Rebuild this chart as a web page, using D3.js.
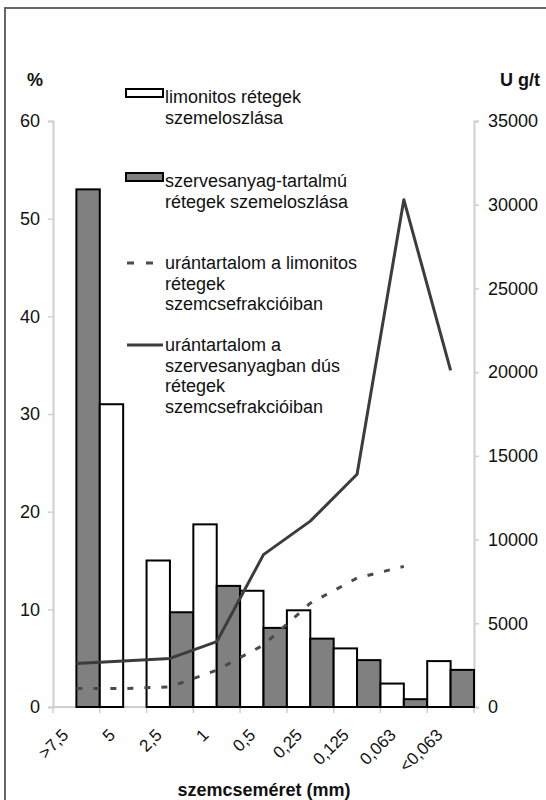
<!DOCTYPE html>
<html>
<head>
<meta charset="utf-8">
<script src="https://cdn.jsdelivr.net/npm/d3@7"></script>
<style>
  html, body { margin: 0; padding: 0; background: #fff; }
  svg { display: block; }
  text { font-family: "Liberation Sans", Arial, sans-serif; fill: #111; }
</style>
</head>
<body>
<div id="chart"></div>
<script>
// ---- data ----
const categories = [">7,5", "5", "2,5", "1", "0,5", "0,25", "0,125", "0,063", "<0,063"];
const limonitBars = [0, 31, 15, 18.7, 11.9, 9.9, 6.0, 2.4, 4.7];          // % (white)
const szervesBars = [53, 0, 9.7, 12.4, 8.1, 7.0, 4.8, 0.8, 3.8];          // % (grey)
const uranLimonit = [1100, 1100, 1200, 2200, 3700, 6200, 7700, 8400, null]; // U g/t (dashed)
const uranSzerves = [2600, 2750, 2900, 3900, 9100, 11100, 13900, 30300, 20100]; // U g/t (solid)
const leftTicks = [0, 10, 20, 30, 40, 50, 60];
const rightTicks = [0, 5000, 10000, 15000, 20000, 25000, 30000, 35000];
const seriesKeys = ["limonit", "szerves"];
const legendItems = [
  { type: "whiteBar", lines: ["limonitos rétegek", "szemeloszlása"] },
  { type: "greyBar", lines: ["szervesanyag-tartalmú", "rétegek szemeloszlása"] },
  { type: "dashed", lines: ["urántartalom a limonitos", "rétegek", "szemcsefrakcióiban"] },
  { type: "solid", lines: ["urántartalom a", "szervesanyagban dús", "rétegek", "szemcsefrakcióiban"] }
];

// ---- layout ----
const W = 546, H = 800;
const plot = { left: 53, right: 474, top: 121, bottom: 707 };

const svg = d3.select("#chart").append("svg")
  .attr("width", W).attr("height", H);

// outer frame (only top & left edges visible in the crop)
svg.append("path")
  .attr("d", `M5,${H} L5,8 L${W},8`)
  .attr("fill", "none").attr("stroke", "#666").attr("stroke-width", 2);

const x = d3.scaleBand().domain(categories).range([plot.left, plot.right]).padding(0);
const xs = d3.scaleBand().domain(seriesKeys).range([0, x.bandwidth()]).padding(0);
const yL = d3.scaleLinear().domain([0, 60]).range([plot.bottom, plot.top]);
const yR = d3.scaleLinear().domain([0, 35000]).range([plot.bottom, plot.top]);

const gridColor = "#cfcfcf";

// left axis
const gL = svg.append("g").attr("transform", `translate(${plot.left},0)`)
  .call(d3.axisLeft(yL).tickValues(leftTicks).tickSize(5).tickPadding(8).tickFormat(d3.format("d")));
// right axis
const gR = svg.append("g").attr("transform", `translate(${plot.right},0)`)
  .call(d3.axisRight(yR).tickValues(rightTicks).tickSize(5).tickPadding(9).tickFormat(d => String(d)));
[gL, gR].forEach(g => {
  g.select(".domain").attr("stroke", gridColor).attr("stroke-width", 2);
  g.selectAll(".tick line").attr("stroke", gridColor).attr("stroke-width", 1.5);
  g.selectAll(".tick text").attr("font-size", 18).attr("fill", "#111")
    .attr("font-family", "Liberation Sans, Arial, sans-serif");
});

// x axis (ticks between categories)
const gX = svg.append("g").attr("transform", `translate(0,${plot.bottom})`);
gX.append("line").attr("x1", plot.left).attr("x2", plot.right)
  .attr("y1", 0).attr("y2", 0).attr("stroke", gridColor).attr("stroke-width", 2);
const boundaries = categories.map(c => x(c)).concat([plot.right]);
gX.selectAll("line.tk").data(boundaries).join("line").attr("class", "tk")
  .attr("x1", d => d).attr("x2", d => d).attr("y1", 0).attr("y2", 6)
  .attr("stroke", gridColor).attr("stroke-width", 1.5);
gX.selectAll("text.lbl").data(categories).join("text").attr("class", "lbl")
  .attr("transform", d => `translate(${x(d) + x.bandwidth() / 2 - 7},${29}) rotate(-45)`)
  .attr("text-anchor", "end")
  .attr("font-size", 17)
  .text(d => d);

// bars
const barData = [];
categories.forEach((c, i) => {
  barData.push({ cat: c, key: "limonit", v: limonitBars[i] });
  barData.push({ cat: c, key: "szerves", v: szervesBars[i] });
});
svg.append("g").selectAll("rect").data(barData.filter(d => d.v > 0)).join("rect")
  .attr("x", d => x(d.cat) + xs(d.key))
  .attr("width", xs.bandwidth())
  .attr("y", d => yL(d.v))
  .attr("height", d => yL(0) - yL(d.v))
  .attr("fill", d => d.key === "limonit" ? "#ffffff" : "#808080")
  .attr("stroke", "#000").attr("stroke-width", 2);

// lines
const cx = c => x(c) + x.bandwidth() / 2;
const lineGen = d3.line().defined(d => d.v != null).x(d => cx(d.cat)).y(d => yR(d.v));
svg.append("path")
  .datum(categories.map((c, i) => ({ cat: c, v: uranLimonit[i] })))
  .attr("d", lineGen).attr("fill", "none")
  .attr("stroke", "#4a4a4a").attr("stroke-width", 3).attr("stroke-dasharray", "6,11");
svg.append("path")
  .datum(categories.map((c, i) => ({ cat: c, v: uranSzerves[i] })))
  .attr("d", lineGen).attr("fill", "none")
  .attr("stroke", "#3c3c3c").attr("stroke-width", 3).attr("stroke-linejoin", "round");

// axis titles
svg.append("text").attr("x", 35).attr("y", 86).attr("text-anchor", "middle")
  .attr("font-size", 18).attr("font-weight", "bold").text("%");
svg.append("text").attr("x", 540).attr("y", 86).attr("text-anchor", "end")
  .attr("font-size", 18).attr("font-weight", "bold").text("U g/t");
svg.append("text").attr("x", 264).attr("y", 796).attr("text-anchor", "middle")
  .attr("font-size", 18).attr("font-weight", "bold").text("szemcseméret (mm)");

// legend
const legendTop = [99, 183, 265, 347];
const lg = svg.append("g");
legendItems.forEach((item, i) => {
  const y0 = legendTop[i];
  if (item.type === "whiteBar" || item.type === "greyBar") {
    lg.append("rect").attr("x", 126).attr("y", y0 - 10).attr("width", 37).attr("height", 8)
      .attr("fill", item.type === "whiteBar" ? "#fff" : "#808080")
      .attr("stroke", "#000").attr("stroke-width", 2);
  } else {
    lg.append("line").attr("x1", 127).attr("x2", 163).attr("y1", y0 - 2).attr("y2", y0 - 2)
      .attr("stroke", item.type === "dashed" ? "#4a4a4a" : "#3c3c3c").attr("stroke-width", 3)
      .attr("stroke-dasharray", item.type === "dashed" ? "7,12" : null);
  }
  item.lines.forEach((t, j) => {
    lg.append("text").attr("x", 165).attr("y", y0 + 4 + j * 20.5)
      .attr("font-size", 18).text(t);
  });
});
</script>
</body>
</html>
